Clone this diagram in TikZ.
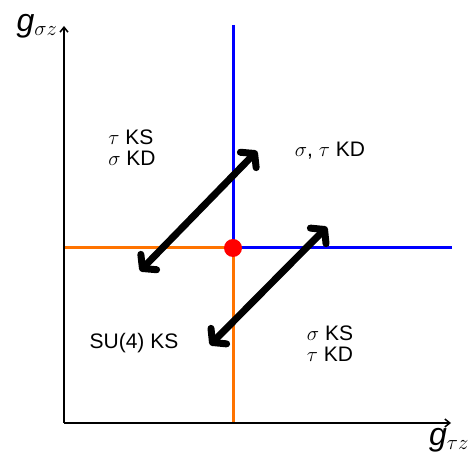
\documentclass[tikz,border=0pt]{standalone}
\usepackage{amsmath}
\usepackage{fontspec}
\setmainfont{Liberation Sans}
\usepackage{tikz}
\usetikzlibrary{arrows.meta,positioning}

\begin{document}
\begin{tikzpicture}[x=1pt,y=1pt,every node/.style={font=\fontsize{21}{21}\selectfont,align=left,inner sep=0pt},
  axis/.style={line width=1.5pt,-{Straight Barb[length=5pt,width=8pt]}},
  border/.style={line width=3pt},
  flow/.style={line width=7pt,{Straight Barb[round,length=9pt,width=22pt]}-{Straight Barb[round,length=9pt,width=22pt]}}]
\useasboundingbox (0,0) rectangle (473,454);
\coordinate (o) at (64,31);
\coordinate (ytop) at (64,428);
\coordinate (xend) at (451,31);
\coordinate (c) at (233,206);
\coordinate (ctop) at (233,429);
\coordinate (cbot) at (233,31);
\coordinate (cleft) at (64,206);
\coordinate (cright) at (452,206);
% phase boundaries
\draw[border,orange!90!red] (cleft) -- (c) -- (cbot);
\draw[border,blue] (ctop) -- (c) -- (cright);
\draw[axis] (o) -- (ytop);
\draw[axis] (o) -- (xend);
\fill[red] (c) circle (9);
% labels
\node (gs) at (37,428) {\fontsize{32}{34}\selectfont\textit{g}$_{\sigma z}$};
\node (gt) at (449,14) {\fontsize{32}{34}\selectfont\textit{g}$_{\tau z}$};
\node (tl) at (132,306) {$\tau$ KS\\$\sigma$ KD};
\node (tr) at (330,303) {$\sigma$, $\tau$ KD};
\node (bl) at (134,111) {SU(4) KS};
\node (br) at (330,110) {$\sigma$ KS\\$\tau$ KD};
% transitions
\coordinate (a1) at (140,183); \coordinate (b1) at (257,303);
\coordinate (a2) at (210,109); \coordinate (b2) at (327,227);
\draw[flow] (a1) -- (b1);
\draw[flow] (a2) -- (b2);
\end{tikzpicture}
\end{document}
